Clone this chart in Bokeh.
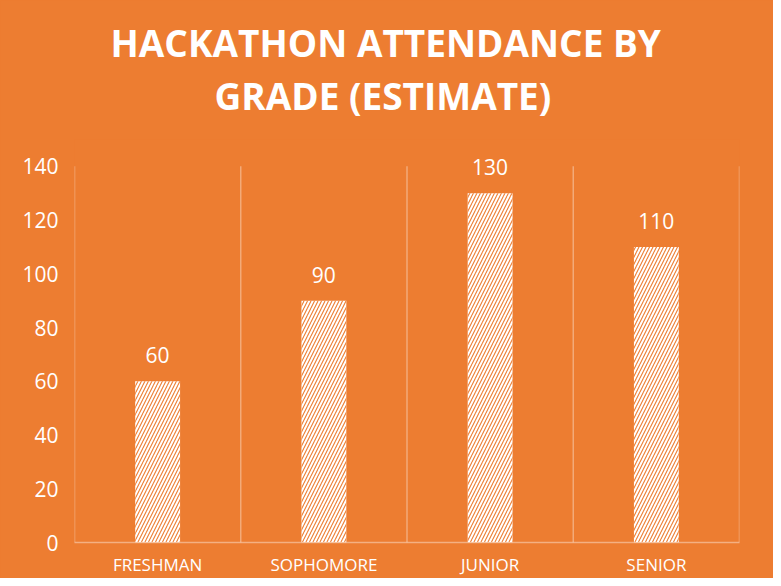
from bokeh.plotting import figure
from bokeh.models import FixedTicker, ColumnDataSource, LabelSet, Range1d, Title
from bokeh.core.properties import value
from bokeh.embed import file_html
from bokeh.resources import INLINE

categories = ["FRESHMAN", "SOPHOMORE", "JUNIOR", "SENIOR"]
attendance = [60, 90, 130, 110]
y_ticks = [0, 20, 40, 60, 80, 100, 120, 140]
title_lines = ["HACKATHON ATTENDANCE BY", "GRADE (ESTIMATE)"]

ORANGE = "#ED7D31"
WHITE = "#FFFFFF"

xs = [i + 0.5 for i in range(len(categories))]
bounds = list(range(len(categories) + 1))
src = ColumnDataSource(dict(x=xs, y=attendance, lbl=[str(v) for v in attendance]))

p = figure(width=773, height=578, output_backend="svg", toolbar_location=None,
           x_range=Range1d(0, len(categories)), y_range=Range1d(0, 150),
           min_border_left=74, min_border_right=34, min_border_bottom=36, min_border_top=139)
p.background_fill_color = ORANGE
p.border_fill_color = ORANGE
p.outline_line_color = None
p.styles = {"background-color": ORANGE}

def style_title(t, offset):
    t.align = "left"
    t.offset = offset
    t.text_color = WHITE
    t.text_font = "Open Sans"
    t.text_font_style = "bold"
    t.text_font_size = "37px"

p.title.text = title_lines[0]
style_title(p.title, 36)
p.title.standoff = 0
spacer = Title(text=" ", text_font_size="16px", standoff=0, text_color=ORANGE)
p.add_layout(spacer, "above")
t2 = Title(text=title_lines[1])
style_title(t2, 140)
t2.standoff = 0
t2.text_line_height = 0.85
p.add_layout(t2, "above")

# vertical separators between categories, from 0 to the top tick
p.segment(x0=bounds, y0=[y_ticks[0]] * len(bounds), x1=bounds, y1=[y_ticks[-1]] * len(bounds),
          line_color=WHITE, line_alpha=0.35, line_width=1.5)

p.vbar(x="x", top="y", width=0.27, source=src, fill_color=WHITE, line_color=None,
       hatch_pattern="/", hatch_color=ORANGE, hatch_scale=7, hatch_weight=1.1)

labels = LabelSet(x="x", y="y", text="lbl", source=src, text_align="center",
                  text_baseline="middle", y_offset=26, text_color=WHITE,
                  text_font=value("Open Sans"), text_font_size=value("21px"))
p.add_layout(labels)

p.xgrid.grid_line_color = None
p.ygrid.grid_line_color = None

p.xaxis.ticker = FixedTicker(ticks=xs)
p.xaxis.major_label_overrides = {x: c for x, c in zip(xs, categories)}
p.xaxis.axis_line_color = WHITE
p.xaxis.axis_line_alpha = 0.4
p.xaxis.axis_line_width = 1.5
p.xaxis.major_tick_line_color = None
p.xaxis.minor_tick_line_color = None
p.xaxis.major_tick_out = 0
p.xaxis.major_label_text_color = WHITE
p.xaxis.major_label_text_font = "Open Sans"
p.xaxis.major_label_text_font_size = "17px"
p.xaxis.major_label_standoff = 10

p.yaxis.ticker = FixedTicker(ticks=y_ticks)
p.yaxis.axis_line_color = None
p.yaxis.major_tick_line_color = None
p.yaxis.minor_tick_line_color = None
p.yaxis.major_tick_out = 0
p.yaxis.major_label_text_color = WHITE
p.yaxis.major_label_text_font = "Open Sans"
p.yaxis.major_label_text_font_size = "21px"
p.yaxis.major_label_standoff = 16

open("out.html", "w").write(file_html(p, INLINE))
